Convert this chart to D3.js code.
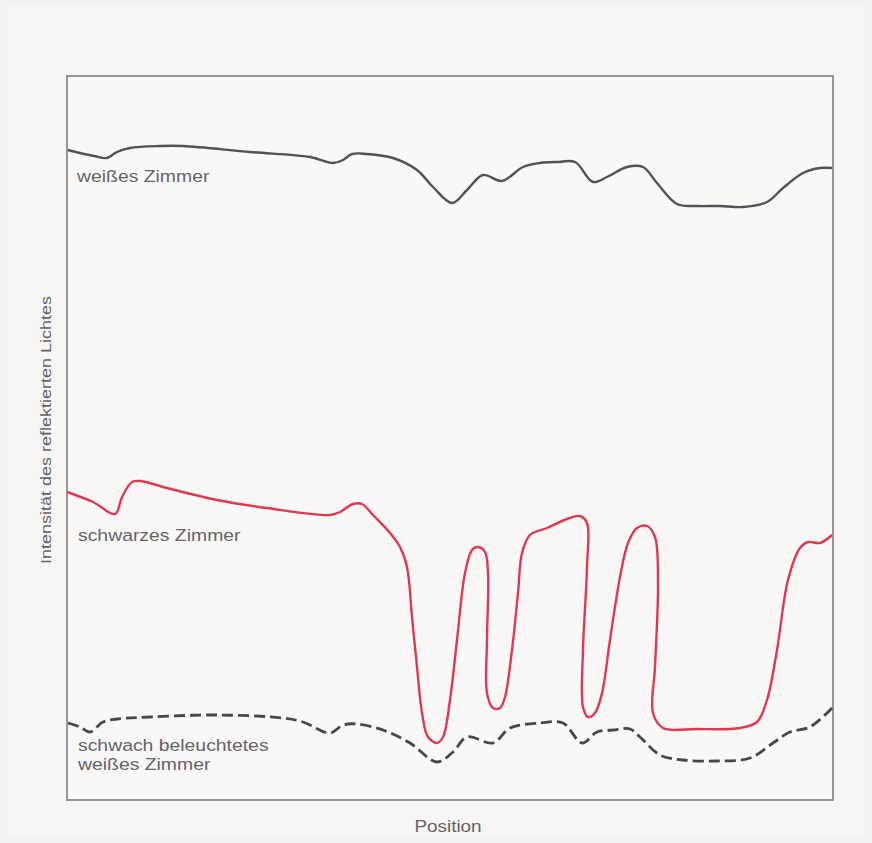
<!DOCTYPE html>
<html><head><meta charset="utf-8">
<script src="https://cdn.jsdelivr.net/npm/d3@7"></script>
<style>
html,body{margin:0;padding:0;background:#f4f2f0;}
svg{display:block;}
text{font-family:"Liberation Sans",Arial,Helvetica,sans-serif;fill:#66626a;}
</style></head>
<body>
<svg id="chart" width="872" height="843"></svg>
<script>
// Position (arbitrary units) and intensity (arbitrary units)
const whiteX = [1,13,27,40,50,63,93,116,183,243,266,276,285,300,326,350,366,385,400,416,435,456,473,490,508,526,540,560,576,590,610,630,653,676,700,716,736,753,765];
const whiteY = [650,647,644,642,648,652,654,654,648,643,637,640,646,646,642,630,613,597,610,625,619,633,637,638,638,618,623,633,633,617,596,594,594,593,598,612,627,632,632];

const blackX = [0,26,48,55,65,73,100,150,200,263,273,286,295,306,323,333,340,345,350,355,361,370,376,383,390,398,405,411,418,421,420,420,426,433,438,445,451,455,463,480,500,513,520,520,516,516,521,528,535,543,553,561,570,580,588,591,588,586,596,630,673,690,700,710,721,733,741,753,765];
const blackY = [308,298,286,303,318,319,312,300,292,285,288,296,296,285,267,253,233,183,133,87,63,57,63,100,160,227,250,253,248,227,160,107,92,92,103,150,207,247,265,272,281,284,277,233,150,93,83,87,107,160,223,257,272,274,263,217,133,87,72,71,72,78,100,150,220,252,258,257,265];

const dimX = [1,13,23,36,50,83,150,216,236,263,276,290,316,343,370,386,400,426,443,473,496,515,530,546,563,573,593,616,650,683,706,723,743,766];
const dimY = [77,73,68,78,81,83,85,82,78,67,75,76,70,57,38,48,63,57,72,77,77,57,68,70,71,63,45,40,39,42,57,68,73,93];

const seriesLabels = ["weißes Zimmer", "schwarzes Zimmer", ["schwach beleuchtetes", "weißes Zimmer"]];
const xTitle = "Position";
const yTitle = "Intensität des reflektierten Lichtes";

const svg = d3.select("#chart");
const W = 872, H = 843;
const m = {left: 67, right: 833, top: 76, bottom: 800};

svg.append("rect").attr("x",0).attr("y",0).attr("width",W).attr("height",H).attr("fill","#f4f2f0");
svg.append("rect").attr("x",8).attr("y",6).attr("width",856).attr("height",831).attr("fill","#f7f6f4");

const x = d3.scaleLinear().domain([0, 766]).range([m.left, m.right]);
const y = d3.scaleLinear().domain([0, 724]).range([m.bottom, m.top]);

// plot box
svg.append("rect")
  .attr("x", m.left).attr("y", m.top)
  .attr("width", m.right - m.left).attr("height", m.bottom - m.top)
  .attr("fill", "#f9f8f6").attr("stroke", "#8c8a8e").attr("stroke-width", 1.8);

const line = d3.line().x(d => x(d[0])).y(d => y(d[1])).curve(d3.curveCatmullRom.alpha(0.5));
const zip = (a, b) => a.map((v, i) => [v, b[i]]);

svg.append("path").datum(zip(whiteX, whiteY))
  .attr("d", line).attr("fill", "none")
  .attr("stroke", "#545058").attr("stroke-width", 2.4).attr("stroke-linejoin","round");

svg.append("path").datum(zip(blackX, blackY))
  .attr("d", line).attr("fill", "none")
  .attr("stroke", "#e2384f").attr("stroke-width", 2.4).attr("stroke-linejoin","round");

svg.append("path").datum(zip(dimX, dimY))
  .attr("d", line).attr("fill", "none")
  .attr("stroke", "#48464a").attr("stroke-width", 2.8)
  .attr("stroke-dasharray", "11,5");

// labels (slightly widened glyphs, as in the scanned original)
function label(px, py, txt, size, sx, anchor) {
  svg.append("text")
    .attr("transform", `translate(${px},${py}) scale(${sx},1)`)
    .attr("font-size", size)
    .attr("text-anchor", anchor || "start")
    .text(txt);
}
label(77, 182, seriesLabels[0], 17, 1.14);
label(78, 541, seriesLabels[1], 17, 1.14);
label(78, 751, seriesLabels[2][0], 17, 1.14);
label(78, 770, seriesLabels[2][1], 17, 1.14);
label(448, 832, xTitle, 16, 1.18, "middle");

svg.append("text")
  .attr("transform", "translate(51,430) rotate(-90) scale(1.2,1)")
  .attr("text-anchor", "middle").attr("font-size", 15)
  .text(yTitle);
</script>
</body></html>
